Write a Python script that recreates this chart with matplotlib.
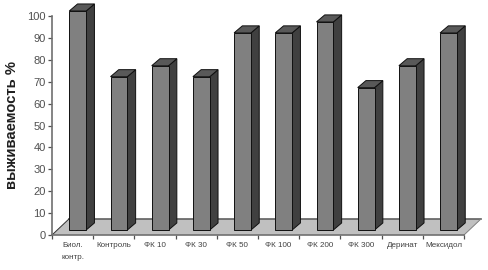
import numpy as np
import matplotlib
matplotlib.use("Agg")
import matplotlib.pyplot as plt

plt.rcParams['font.family'] = ['Liberation Sans', 'DejaVu Sans']

categories = ['Биол.\nконтр.', 'Контроль', 'ФК 10', 'ФК 30', 'ФК 50',
              'ФК 100', 'ФК 200', 'ФК 300', 'Деринат', 'Мексидол']
survival = [100, 70, 75, 70, 90, 90, 95, 65, 75, 90]
y_ticks = list(range(0, 101, 10))

# fake 3d offsets, in data units (1 x unit = 41.2 px, 1 y unit = 2.19 px)
bar_w = 0.41
bar_dx = 0.2
bar_dy = 3.2
bar_shift = 0.125
bar_base = 2.3
floor_dx = 0.41
floor_dy = 7.3

fig = plt.figure(figsize=(4.88, 2.70), dpi=100)
ax = fig.add_axes([52 / 488, 1 - 235 / 270, 412 / 488, 219 / 270])

x = np.arange(len(categories))
ax.set_xlim(-0.5, len(categories) - 0.5)
ax.set_ylim(0, 100)

# floor
x0, x1 = ax.get_xlim()
ax.fill([x0, x1, x1 + floor_dx, x0 + floor_dx],
        [0, 0, floor_dy, floor_dy],
        facecolor='#c0c0c0', edgecolor='none', clip_on=False, zorder=1)
ax.plot([x0 + floor_dx, x1 + floor_dx], [floor_dy, floor_dy],
        color='#606060', lw=1.2, clip_on=False, zorder=1.5)
ax.plot([x0, x0 + floor_dx], [0, floor_dy], color='#303030', lw=0.7,
        clip_on=False, zorder=1.5)
ax.plot([x1, x1 + floor_dx], [0, floor_dy], color='#808080', lw=0.7,
        clip_on=False, zorder=1.5)

# bars: side, top, then front
for xi, val in zip(x, survival):
    left = xi + bar_shift - bar_w / 2
    right = left + bar_w
    top = val + bar_base
    ax.fill([right, right + bar_dx, right + bar_dx, right],
            [bar_base, bar_base + bar_dy, top + bar_dy, top],
            facecolor='#404040', edgecolor='#101010', lw=0.7,
            clip_on=False, zorder=2)
    ax.fill([left, right, right + bar_dx, left + bar_dx],
            [top, top, top + bar_dy, top + bar_dy],
            facecolor='#595959', edgecolor='#101010', lw=0.7,
            clip_on=False, zorder=2)
ax.bar(x + bar_shift, survival, width=bar_w, bottom=bar_base, color='#808080',
       edgecolor='#101010', linewidth=0.7, clip_on=False, zorder=3)

for side in ['top', 'right']:
    ax.spines[side].set_visible(False)
for side in ['left', 'bottom']:
    ax.spines[side].set_color('#707070')
    ax.spines[side].set_linewidth(1.2)
    ax.spines[side].set_zorder(1.6)

ax.set_yticks(y_ticks)
ax.tick_params(axis='y', labelsize=8, labelcolor='#505050', color='#505050',
               length=3, width=0.9, pad=1.5)
ax.set_xticks(x)
ax.set_xticklabels(categories, fontsize=5.8, color='#404040', linespacing=1.95)
ax.set_xticks(np.arange(x0, x1 + 0.1, 1), minor=True)
ax.tick_params(axis='x', which='major', length=0, pad=5)
ax.tick_params(axis='x', which='minor', length=3, width=0.9, color='#505050')

fig.text(12 / 488, 1 - 125 / 270, 'выживаемость %', rotation=90, fontsize=10.7,
         fontweight='bold', color='#202020', ha='center', va='center')

fig.savefig('out.png', dpi=100)
